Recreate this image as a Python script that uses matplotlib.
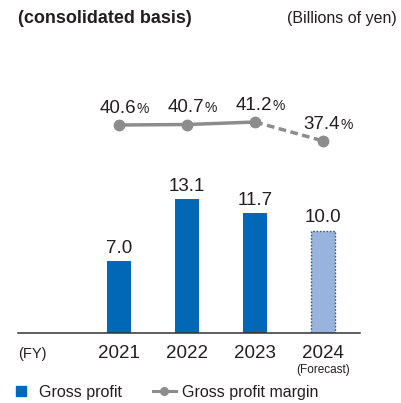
import matplotlib
matplotlib.use("Agg")
import matplotlib.pyplot as plt
from matplotlib.lines import Line2D
from matplotlib.transforms import offset_copy

plt.rcParams['font.family'] = ['Liberation Sans', 'DejaVu Sans']

## data
years = ["2021", "2022", "2023", "2024"]
gross_profit = [7.0, 13.1, 11.7, 10.0]
margin = [40.6, 40.7, 41.2, 37.4]
forecast = [False, False, False, True]

BLUE = "#0068b6"
LIGHT = "#98b4de"
GRAY = "#8c8c8c"
TXT = "#231f20"

W, H = 401, 403
fig = plt.figure(figsize=(W / 100, H / 100), dpi=100)
# axes: x 18..360 px, baseline at y=333, top at y=90
ax = fig.add_axes([18 / W, (H - 333) / H, 342 / W, 243 / H])
x = list(range(len(years)))
ax.set_xlim(-1.49, 3.54)
ax.set_ylim(0, 243 / 10.25)

for i, v in enumerate(gross_profit):
    if forecast[i]:
        ax.bar(i, v, width=0.35, color=LIGHT, edgecolor="#555555",
               linestyle=(0, (1.2, 1.2)), linewidth=1.0, zorder=2)
    else:
        ax.bar(i, v, width=0.35, color=BLUE, linewidth=0, zorder=2)
    ax.text(i, v, f"{v:.1f}", ha="center", va="baseline", fontsize=13.5, color=TXT,
            transform=offset_copy(ax.transData, fig=fig, x=0, y=8, units="dots"))

for s in ["top", "right", "left"]:
    ax.spines[s].set_visible(False)
ax.spines["bottom"].set_color("#333333")
ax.spines["bottom"].set_linewidth(1.1)
ax.set_yticks([])
ax.set_xticks([])

# year labels
tr = ax.get_xaxis_transform()
for i, yl in enumerate(years):
    ax.text(i, -25 / 243, yl, ha="center", va="baseline", fontsize=13.5, color=TXT, transform=tr)
    if forecast[i]:
        ax.text(i, -40 / 243, "(Forecast)", ha="center", va="baseline", fontsize=8.5,
                color=TXT, transform=tr)
ax.text(0, -25 / 243, "(FY)", ha="left", va="baseline", fontsize=10.5, color=TXT,
        transform=ax.transAxes)

# margin line
ax2 = ax.twinx()
ax2.set_ylim(-1.0, -1.0 + 243 / 5)
ax2.set_xlim(ax.get_xlim())
ax2.axis("off")
ax2.plot(x[:3], margin[:3], color=GRAY, lw=2.5, solid_capstyle="butt", zorder=3)
ax2.plot(x[2:], margin[2:], color=GRAY, lw=2.5, linestyle=(0, (2.2, 1.3)), zorder=3)
ax2.plot(x, margin, linestyle="none", marker="o", markersize=7.5, color=GRAY, zorder=4)
for i, m in enumerate(margin):
    ax2.text(i, m, f"{m:.1f}", ha="right", va="baseline", fontsize=13.5, color=TXT,
             transform=offset_copy(ax2.transData, fig=fig, x=17, y=12, units="dots"))
    ax2.text(i, m, "%", ha="left", va="baseline", fontsize=10, color=TXT,
             transform=offset_copy(ax2.transData, fig=fig, x=17, y=12, units="dots"))

# header texts
fig.text(18 / W, 1 - 23 / H, "(consolidated basis)", fontsize=13, fontweight="bold",
         color=TXT, ha="left", va="baseline")
fig.text(397 / W, 1 - 23 / H, "(Billions of yen)", fontsize=11.5, color=TXT,
         ha="right", va="baseline")

handles = [
    Line2D([], [], marker="s", linestyle="none", markersize=7.2, color=BLUE),
    Line2D([], [], marker="o", color=GRAY, lw=2.2, markersize=5.5),
]
fig.legend(handles, ["Gross profit", "Gross profit margin"], loc="lower left",
           bbox_to_anchor=(9 / W, 3 / H), ncol=2, frameon=False, fontsize=11.5,
           handlelength=1.45, handletextpad=0.4, columnspacing=1.95, borderpad=0,
           borderaxespad=0, labelcolor=TXT)

fig.savefig("out.png", dpi=100)
